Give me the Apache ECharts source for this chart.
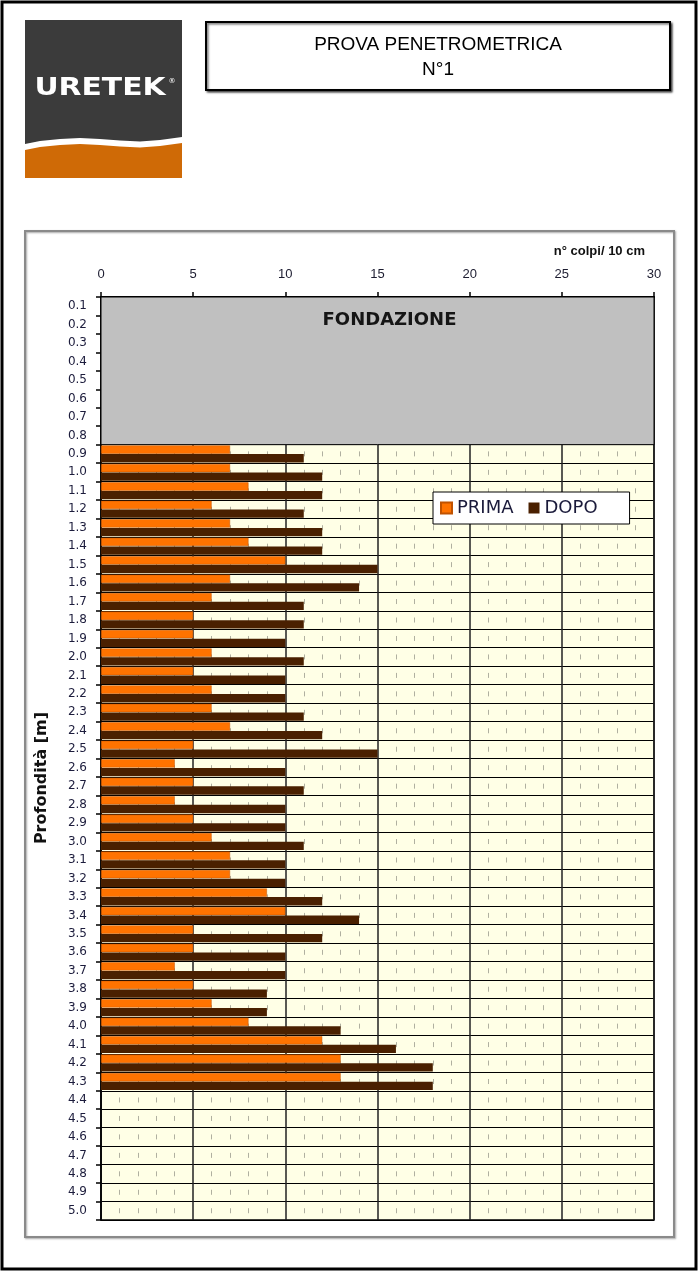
<!DOCTYPE html>
<html><head><meta charset="utf-8">
<script src="https://cdn.jsdelivr.net/npm/echarts@6/dist/echarts.min.js"></script>
<style>html,body{margin:0;padding:0;background:#fff}#c{width:700px;height:1275px}</style>
</head><body><div id="c"></div>
<script>
// Depth categories (m)
const depths = ['0.1','0.2','0.3','0.4','0.5','0.6','0.7','0.8','0.9','1.0',
  '1.1','1.2','1.3','1.4','1.5','1.6','1.7','1.8','1.9','2.0',
  '2.1','2.2','2.3','2.4','2.5','2.6','2.7','2.8','2.9','3.0',
  '3.1','3.2','3.3','3.4','3.5','3.6','3.7','3.8','3.9','4.0',
  '4.1','4.2','4.3','4.4','4.5','4.6','4.7','4.8','4.9','5.0'];
// n° colpi / 10 cm  (before = PRIMA, after = DOPO)
const prima = [null,null,null,null,null,null,null,null,
  7,7,8,6,7,8,10,7,6,5,5,6,5,6,6,7,5,4,5,4,5,6,7,7,9,10,5,5,4,5,6,8,12,13,13,
  null,null,null,null,null,null,null];
const dopo = [null,null,null,null,null,null,null,null,
  11,12,12,11,12,12,15,14,11,11,10,11,10,10,11,12,15,10,11,10,10,11,10,10,12,14,12,10,10,9,9,13,16,18,18,
  null,null,null,null,null,null,null];
const foundationDepth = 0.8;
const maxDepth = 5.0;
const xMin = 0, xMax = 30, xInterval = 5;

function wave(dy) {
  const pts = [[25,144],[40,141],[60,139],[80,138],[100,139],[120,140.5],[140,141.5],[160,140],[182,137]];
  return pts.map(p => [p[0], p[1] + dy]).concat([[182,178],[25,178]]);
}

const chart = echarts.init(document.getElementById('c'), null, {renderer:'canvas'});
chart.setOption({
  animation: false,
  backgroundColor: '#ffffff',
  grid: {left:101, right:46, top:297, bottom:55, show:true, backgroundColor:'#FFFFE6', borderColor:'#000', borderWidth:1.5},
  legend: {
    data: ['PRIMA','DOPO'], left: 433, top: 492, orient:'horizontal',
    backgroundColor:'#fff', borderColor:'#000', borderWidth:1,
    padding:[7,32,7,7], itemGap:15, itemWidth:11, itemHeight:11,
    icon:'rect',
    textStyle:{fontFamily:'DejaVu Sans', fontSize:18, color:'#1a1a3a'}
  },
  xAxis: {
    type:'value', position:'top', min:xMin, max:xMax, interval:xInterval,
    axisLine:{show:true, lineStyle:{color:'#000', width:2}},
    axisTick:{show:true, length:5, lineStyle:{color:'#000', width:1.5}},
    minorTick:{show:true, splitNumber:5, length:-4, lineStyle:{color:'#000', width:1.2}},
    axisLabel:{fontFamily:'Liberation Sans', fontSize:13, color:'#1c1c30', margin:16},
    splitLine:{show:true, lineStyle:{color:'#222', width:1.5}},
    minorSplitLine:{show:true, lineStyle:{color:'#b0b0a0', width:1, type:[5,13.46], dashOffset:11.76}}
  },
  yAxis: [{
    type:'category', data:depths, inverse:true,
    axisLine:{show:true, lineStyle:{color:'#000', width:1.5}},
    axisTick:{show:true, length:5, interval:0, lineStyle:{color:'#000', width:1.5}},
    axisLabel:{interval:0, fontFamily:'DejaVu Sans', fontSize:12, color:'#1c1c3c', margin:14},
    splitLine:{show:true, interval:0, lineStyle:{color:'#000', width:1.2}}
  },{
    type:'value', inverse:true, min:0, max:maxDepth, show:false
  }],
  series: [
    {name:'PRIMA', type:'bar', data:prima, barCategoryGap:'8%', barGap:'4%',
     itemStyle:{color:'#FF7300', borderColor:'#C05200', borderWidth:0.5}},
    {name:'DOPO', type:'bar', data:dopo,
     itemStyle:{color:'#4A2000'}},
    {name:'fondazione', type:'line', yAxisIndex:1, data:[], silent:true,
     markArea:{silent:true,
       itemStyle:{color:'#C0C0C0', borderColor:'#000', borderWidth:1},
       label:{show:true, position:'insideTop', distance:15, offset:[12,0],
         fontFamily:'DejaVu Sans', fontWeight:'bold', fontSize:18, color:'#151515'},
       data:[[{name:'FONDAZIONE', yAxis:0, xAxis:xMin},{yAxis:foundationDepth, xAxis:xMax}]]
     }}
  ],
  graphic: [
    {type:'rect', shape:{x:2, y:2, width:694, height:1267}, style:{fill:'none', stroke:'#000', lineWidth:3}, z:100},
    {type:'rect', shape:{x:25, y:231, width:649, height:1006}, style:{fill:'none', stroke:'#8a8a8a', lineWidth:2, shadowBlur:2, shadowOffsetX:1, shadowOffsetY:1, shadowColor:'rgba(0,0,0,0.35)'}, z:100},
    {type:'rect', shape:{x:206, y:22, width:464, height:68}, style:{fill:'#fff', stroke:'#000', lineWidth:2, shadowBlur:2, shadowOffsetX:1.5, shadowOffsetY:1.5, shadowColor:'rgba(0,0,0,0.6)'}, z:100},
    {type:'text', x:438, y:45, style:{text:'PROVA PENETROMETRICA', font:'19px "Liberation Sans"', fill:'#000', textAlign:'center', textVerticalAlign:'middle'}, z:101},
    {type:'text', x:438, y:70, style:{text:'N°1', font:'19px "Liberation Sans"', fill:'#000', textAlign:'center', textVerticalAlign:'middle'}, z:101},
    // logo
    {type:'rect', shape:{x:25, y:20, width:157, height:158}, style:{fill:'#3b3b3b'}, z:100},
    {type:'polygon', shape:{points:wave(0)}, style:{fill:'#ffffff'}, z:101},
    {type:'polygon', shape:{points:wave(6)}, style:{fill:'#CF6A06'}, z:102},
    {type:'text', x:100, y:89, scaleX:1.24, style:{text:'URETEK', font:'bold 24px "DejaVu Sans"', fill:'#ffffff', textAlign:'center', textVerticalAlign:'middle'}, z:103},
    {type:'text', x:172, y:81, style:{text:'®', font:'7px "DejaVu Sans"', fill:'#ffffff', textAlign:'center', textVerticalAlign:'middle'}, z:103},
    // axis titles
    {type:'text', x:645, y:251, style:{text:'n° colpi/ 10 cm', font:'bold 13px "Liberation Sans"', fill:'#111', textAlign:'right', textVerticalAlign:'middle'}, z:101},
    {type:'text', x:42, y:778, rotation:Math.PI/2, style:{text:'Profondità [m]', font:'bold 16px "DejaVu Sans"', fill:'#111', textAlign:'center', textVerticalAlign:'middle'}, z:101}
  ]
});
</script>
</body></html>
